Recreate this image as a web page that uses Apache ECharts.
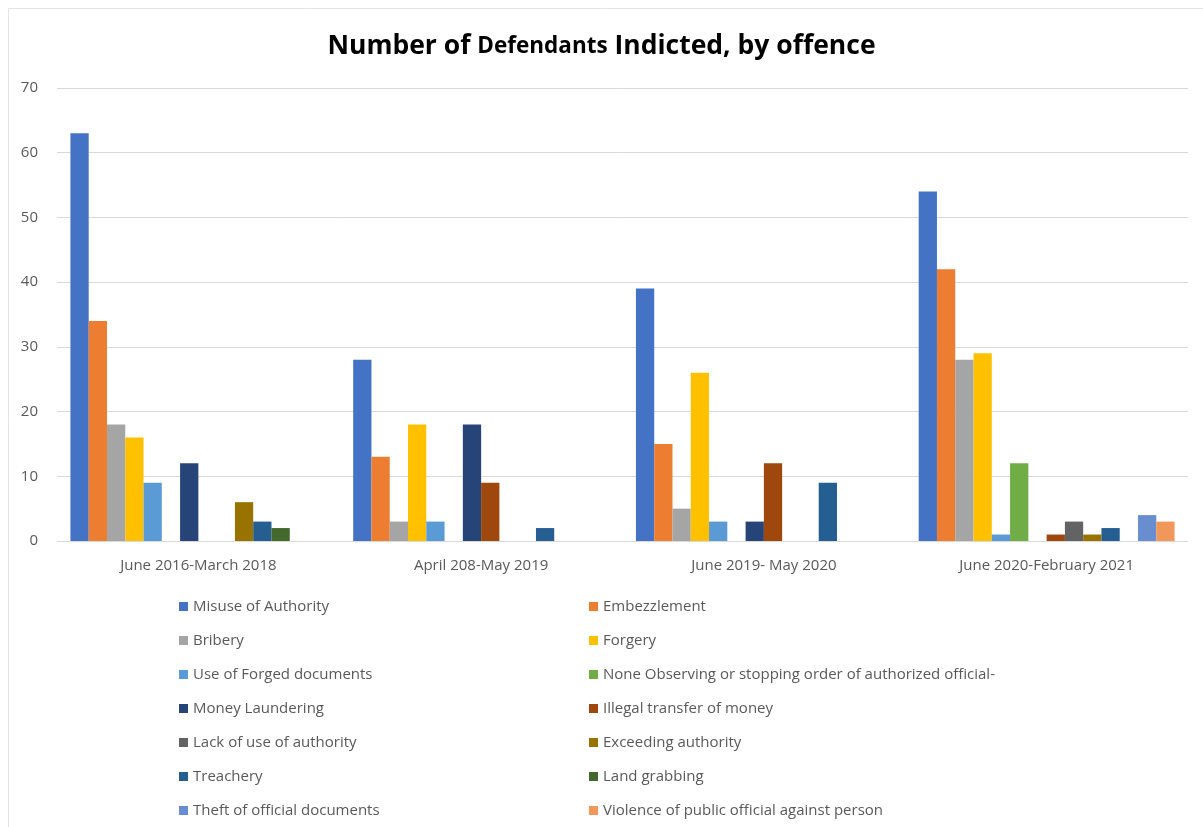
<!DOCTYPE html>
<html>
<head>
<meta charset="utf-8">
<script src="https://cdn.jsdelivr.net/npm/echarts@6/dist/echarts.min.js"></script>
<style>html,body{margin:0;padding:0;background:#fff}#c{width:1203px;height:827px}</style>
</head>
<body>
<div id="c"></div>
<script>
const categories = ["June 2016-March 2018", "April 208-May 2019", "June 2019- May 2020", "June 2020-February 2021"];
const seriesNames = ["Misuse of Authority", "Embezzlement", "Bribery", "Forgery", "Use of Forged documents",
  "None Observing or stopping order of authorized official-", "Money Laundering", "Illegal transfer of money",
  "Lack of use of authority", "Exceeding authority", "Treachery", "Land grabbing",
  "Theft of official documents", "Violence of public official against person"];
const misuseOfAuthority = [63, 28, 39, 54];
const embezzlement = [34, 13, 15, 42];
const bribery = [18, 3, 5, 28];
const forgery = [16, 18, 26, 29];
const useOfForgedDocuments = [9, 3, 3, 1];
const noneObserving = [0, 0, 0, 12];
const moneyLaundering = [12, 18, 3, 0];
const illegalTransfer = [0, 9, 12, 1];
const lackOfUse = [0, 0, 0, 3];
const exceedingAuthority = [6, 0, 0, 1];
const treachery = [3, 2, 9, 2];
const landGrabbing = [2, 0, 0, 0];
const theftOfDocuments = [0, 0, 0, 4];
const violence = [0, 0, 0, 3];
const seriesValues = [misuseOfAuthority, embezzlement, bribery, forgery, useOfForgedDocuments, noneObserving,
  moneyLaundering, illegalTransfer, lackOfUse, exceedingAuthority, treachery, landGrabbing, theftOfDocuments, violence];
const colors = ["#4472C4", "#ED7D31", "#A5A5A5", "#FFC000", "#5B9BD5", "#70AD47", "#264478", "#9E480E",
  "#636363", "#997300", "#255E91", "#43682B", "#698ED0", "#F1975A"];
const yTicks = { min: 0, max: 70, interval: 10 };

const FONT = 'Open Sans, sans-serif';
const chart = echarts.init(document.getElementById('c'), null, { renderer: 'canvas' });
const leftNames = seriesNames.filter((_, i) => i % 2 === 0);
const rightNames = seriesNames.filter((_, i) => i % 2 === 1);
const legendCommon = {
  orient: 'vertical', top: 593, height: 260, itemWidth: 9, itemHeight: 9, itemGap: 17, icon: 'rect',
  textStyle: { color: '#595959', fontSize: 15, fontFamily: FONT, lineHeight: 17 }
};
chart.setOption({
  animation: false,
  color: colors,
  title: {
    text: '{a|Number of }{b|Defendants}{a| Indicted, by offence}',
    left: 'center', top: 28,
    textStyle: {
      rich: {
        a: { fontSize: 26.5, fontWeight: 'bold', color: '#000', fontFamily: FONT },
        b: { fontSize: 22.5, fontWeight: 'bold', color: '#000', fontFamily: FONT }
      }
    }
  },
  graphic: [{ type: 'rect', shape: { x: 8.5, y: 8.5, width: 1200, height: 830 }, style: { fill: 'none', stroke: '#e3e3e3', lineWidth: 1 }, silent: true }],
  grid: { left: 57, right: 15, top: 88, bottom: 286, containLabel: false },
  legend: [
    Object.assign({}, legendCommon, { left: 174, data: leftNames }),
    Object.assign({}, legendCommon, { left: 584, data: rightNames })
  ],
  xAxis: {
    type: 'category', data: categories,
    axisLine: { lineStyle: { color: '#d9d9d9' } },
    axisTick: { show: false },
    axisLabel: { color: '#595959', fontSize: 15, margin: 17, fontFamily: FONT }
  },
  yAxis: {
    type: 'value', min: yTicks.min, max: yTicks.max, interval: yTicks.interval,
    axisLine: { show: false }, axisTick: { show: false },
    splitLine: { lineStyle: { color: '#d9d9d9' } },
    axisLabel: { color: '#595959', fontSize: 15, margin: 19, fontFamily: FONT }
  },
  series: seriesNames.map((n, i) => ({
    name: n, type: 'bar', data: seriesValues[i],
    barGap: '0%', barCategoryGap: '9.5%'
  }))
});
</script>
</body>
</html>
